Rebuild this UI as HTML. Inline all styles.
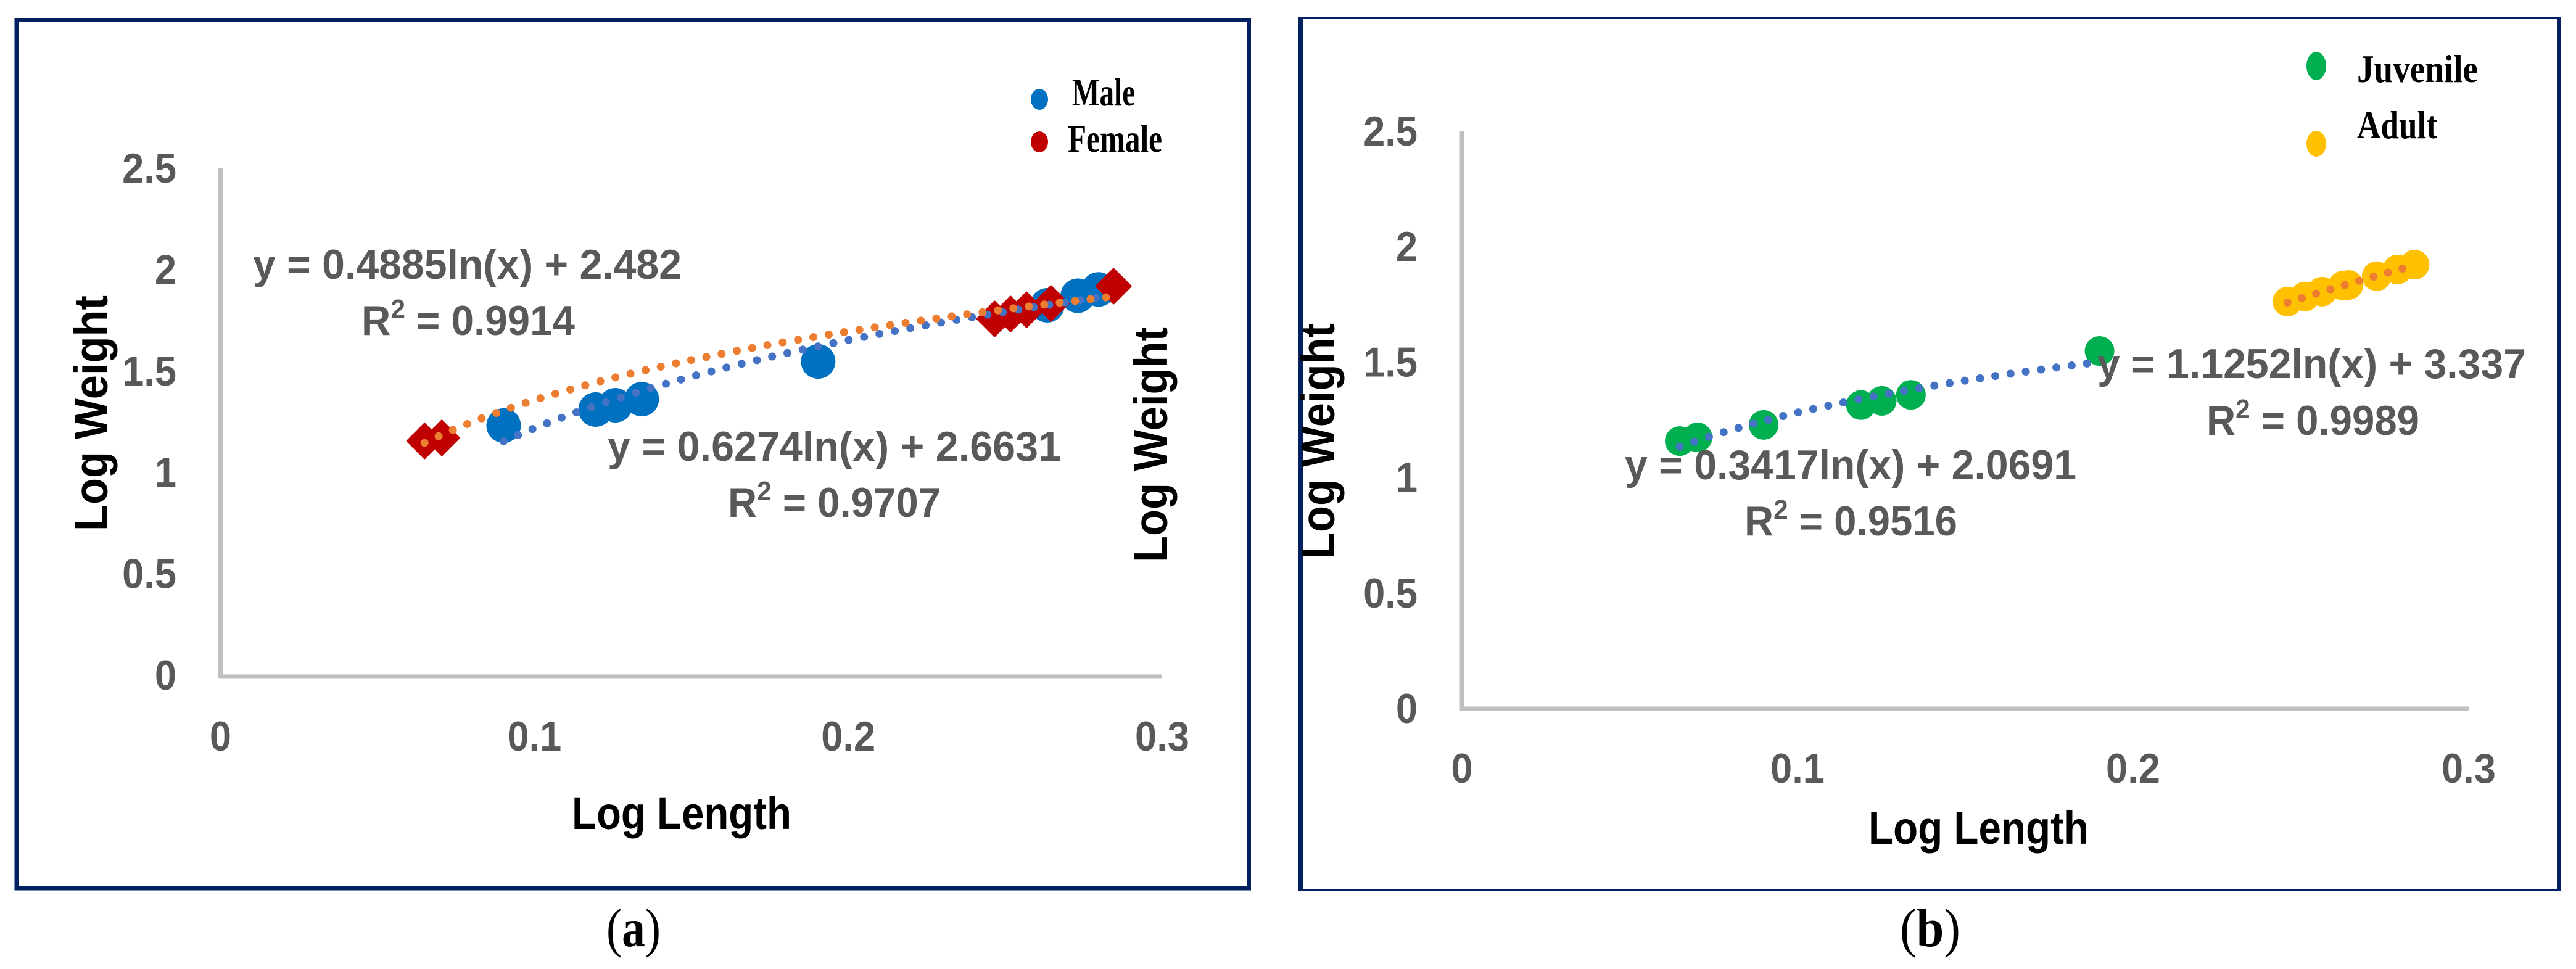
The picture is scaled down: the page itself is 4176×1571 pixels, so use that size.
<!DOCTYPE html>
<html lang="en">
<head>
<meta charset="utf-8">
<title>Log Length vs Log Weight</title>
<style>
html,body{margin:0;padding:0;background:#fff;}
svg{display:block;}
.tick{font-family:"Liberation Sans",sans-serif;font-weight:700;font-size:68px;fill:#595959;}
.eq{font-family:"Liberation Sans",sans-serif;font-weight:700;font-size:68px;fill:#595959;}
.title{font-family:"Liberation Sans",sans-serif;font-weight:700;font-size:77px;fill:#000;}
.xtitle{font-family:"Liberation Sans",sans-serif;font-weight:700;font-size:74px;fill:#000;}
.leg{font-family:"Liberation Serif",serif;font-weight:700;font-size:64px;fill:#000;}
.cap{font-family:"Liberation Serif",serif;font-size:88px;fill:#000;}
</style>
</head>
<body>
<svg id="figure" xmlns="http://www.w3.org/2000/svg" width="4176" height="1571" viewBox="0 0 4176 1571">
  <rect width="4176" height="1571" fill="#fff"/>

  <g id="panel-a">
    <rect x="27" y="32.5" width="1997.5" height="1407.5" fill="none" stroke="#002060" stroke-width="7"/>
    <line x1="357.5" y1="273" x2="357.5" y2="1100" stroke="#bfbfbf" stroke-width="7"/>
    <line x1="357" y1="1097" x2="1884" y2="1097" stroke="#bfbfbf" stroke-width="7"/>
    <g id="a-ticks"></g>
    <g id="a-marks"></g>
    <text class="title" transform="translate(174 670) rotate(-90)" text-anchor="middle" textLength="382" lengthAdjust="spacingAndGlyphs">Log Weight</text>
    <text class="title" transform="translate(1892 721) rotate(-90)" text-anchor="middle" textLength="382" lengthAdjust="spacingAndGlyphs">Log Weight</text>
    <text class="xtitle" x="927" y="1344" textLength="356" lengthAdjust="spacingAndGlyphs">Log Length</text>
    <text class="eq" x="410" y="452" textLength="695" lengthAdjust="spacingAndGlyphs">y = 0.4885ln(x) + 2.482</text>
    <text class="eq" x="586" y="543" textLength="346" lengthAdjust="spacingAndGlyphs">R<tspan font-size="44" dy="-27">2</tspan><tspan dy="27"> = 0.9914</tspan></text>
    <text class="eq" x="985" y="747" textLength="735" lengthAdjust="spacingAndGlyphs">y = 0.6274ln(x) + 2.6631</text>
    <text class="eq" x="1180" y="838" textLength="345" lengthAdjust="spacingAndGlyphs">R<tspan font-size="44" dy="-27">2</tspan><tspan dy="27"> = 0.9707</tspan></text>
    <ellipse cx="1685" cy="161" rx="14" ry="17" fill="#0070c0"/>
    <ellipse cx="1685" cy="230" rx="14" ry="17" fill="#c00000"/>
    <text class="leg" x="1738" y="171" textLength="102" lengthAdjust="spacingAndGlyphs">Male</text>
    <text class="leg" x="1731" y="246" textLength="153" lengthAdjust="spacingAndGlyphs">Female</text>
    <text class="cap" x="983" y="1534" textLength="88" lengthAdjust="spacingAndGlyphs">(<tspan font-weight="700">a</tspan>)</text>
  </g>

  <g id="panel-b">
    <g stroke="#002060" fill="none">
      <line x1="2105" y1="29" x2="4152" y2="29" stroke-width="4"/>
      <line x1="2105" y1="1443" x2="4152" y2="1443" stroke-width="4"/>
      <line x1="2108.5" y1="27" x2="2108.5" y2="1445" stroke-width="7"/>
      <line x1="4148.5" y1="27" x2="4148.5" y2="1445" stroke-width="7"/>
    </g>
    <line x1="2370" y1="213" x2="2370" y2="1152" stroke="#bfbfbf" stroke-width="7"/>
    <line x1="2370" y1="1149" x2="4002" y2="1149" stroke="#bfbfbf" stroke-width="7"/>
    <g id="b-ticks"></g>
    <g id="b-marks"></g>
    <text class="title" transform="translate(2163 715) rotate(-90)" text-anchor="middle" textLength="382" lengthAdjust="spacingAndGlyphs">Log Weight</text>
    <text class="xtitle" x="3029" y="1368" textLength="357" lengthAdjust="spacingAndGlyphs">Log Length</text>
    <text class="eq" x="3400" y="613" textLength="695" lengthAdjust="spacingAndGlyphs">y = 1.1252ln(x) + 3.337</text>
    <text class="eq" x="3577" y="705" textLength="345" lengthAdjust="spacingAndGlyphs">R<tspan font-size="44" dy="-27">2</tspan><tspan dy="27"> = 0.9989</tspan></text>
    <text class="eq" x="2634" y="777" textLength="732" lengthAdjust="spacingAndGlyphs">y = 0.3417ln(x) + 2.0691</text>
    <text class="eq" x="2828" y="868" textLength="345" lengthAdjust="spacingAndGlyphs">R<tspan font-size="44" dy="-27">2</tspan><tspan dy="27"> = 0.9516</tspan></text>
    <ellipse cx="3755" cy="107" rx="16" ry="23" fill="#00b050"/>
    <ellipse cx="3755" cy="233" rx="16" ry="21" fill="#ffc000"/>
    <text class="leg" x="3821" y="133" textLength="196" lengthAdjust="spacingAndGlyphs">Juvenile</text>
    <text class="leg" x="3821" y="224" textLength="130" lengthAdjust="spacingAndGlyphs">Adult</text>
    <text class="cap" x="3080" y="1534" textLength="98" lengthAdjust="spacingAndGlyphs">(<tspan font-weight="700">b</tspan>)</text>
  </g>
</svg>

<script>
// Tick labels
const xTickLabels = ["0", "0.1", "0.2", "0.3"];
const yTickLabels = ["0", "0.5", "1", "1.5", "2", "2.5"];

// Panel (a): male and female series
const maleLength = [0.0902, 0.1195, 0.1258, 0.1342, 0.1904, 0.2634, 0.2731, 0.2797];
const maleWeight = [1.232, 1.311, 1.332, 1.362, 1.548, 1.825, 1.872, 1.903];
const femaleLength = [0.065, 0.0705, 0.2466, 0.2517, 0.2568, 0.2646, 0.2845];
const femaleWeight = [1.156, 1.171, 1.758, 1.782, 1.803, 1.834, 1.919];
const maleTrend = [0.6274, 2.6631];
const femaleTrend = [0.4885, 2.482];

// Panel (b): juvenile and adult series
const juvenileLength = [0.0649, 0.0702, 0.0899, 0.1189, 0.1251, 0.1338, 0.19];
const juvenileWeight = [1.159, 1.175, 1.229, 1.315, 1.333, 1.359, 1.549];
const adultLength = [0.246, 0.2512, 0.2563, 0.2626, 0.2642, 0.2726, 0.2788, 0.2839];
const adultWeight = [1.763, 1.785, 1.806, 1.832, 1.835, 1.873, 1.902, 1.923];
const juvenileTrend = [0.3417, 2.0691];
const adultTrend = [1.1252, 3.337];

const SVG_NS = 'http://www.w3.org/2000/svg';

function makeAxes(x0, x1, y0, y1) {
  return {
    x: function (v) { return x0 + (v / 0.3) * (x1 - x0); },
    y: function (v) { return y0 - (v / 2.5) * (y0 - y1); }
  };
}
const axesA = makeAxes(357.5, 1884, 1095, 273);
const axesB = makeAxes(2370, 4002, 1149, 213);

function tickWidth(label) {
  const dots = label.split('.').length - 1;
  return 68 * 0.93 * ((label.length - dots) * 0.556 + dots * 0.278);
}

function drawTicks(parent, axes, yRight, xBase) {
  xTickLabels.forEach(function (label) {
    const t = document.createElementNS(SVG_NS, 'text');
    t.setAttribute('class', 'tick');
    
    
    t.setAttribute('x', axes.x(parseFloat(label)));
    t.setAttribute('y', xBase);
    t.setAttribute('text-anchor', 'middle');
    t.setAttribute('textLength', tickWidth(label));
    t.setAttribute('lengthAdjust', 'spacingAndGlyphs');
    t.textContent = label;
    parent.appendChild(t);
  });
  yTickLabels.forEach(function (label) {
    const t = document.createElementNS(SVG_NS, 'text');
    t.setAttribute('class', 'tick');
    
    
    t.setAttribute('x', yRight);
    t.setAttribute('y', axes.y(parseFloat(label)) + 23);
    t.setAttribute('text-anchor', 'end');
    t.setAttribute('textLength', tickWidth(label));
    t.setAttribute('lengthAdjust', 'spacingAndGlyphs');
    t.textContent = label;
    parent.appendChild(t);
  });
}

function drawCircles(parent, axes, xs, ys, r, color, name) {
  xs.forEach(function (v, i) {
    const c = document.createElementNS(SVG_NS, 'circle');
    
    
    c.setAttribute('cx', axes.x(v));
    c.setAttribute('cy', axes.y(ys[i]));
    c.setAttribute('r', r);
    c.setAttribute('fill', color);
    parent.appendChild(c);
  });
}

function drawDiamonds(parent, axes, xs, ys, h, color, name) {
  xs.forEach(function (v, i) {
    const cx = axes.x(v), cy = axes.y(ys[i]);
    const p = document.createElementNS(SVG_NS, 'polygon');
    
    
    p.setAttribute('points', [[cx - h, cy], [cx, cy - h], [cx + h, cy], [cx, cy + h]].map(function (q) { return q.join(','); }).join(' '));
    p.setAttribute('fill', color);
    p.setAttribute('stroke', color);
    p.setAttribute('stroke-width', '3');
    p.setAttribute('stroke-linejoin', 'round');
    parent.appendChild(p);
  });
}

function drawTrend(parent, axes, xs, coef, color, gap, name) {
  const lo = Math.min.apply(null, xs), hi = Math.max.apply(null, xs);
  const steps = 120;
  let d = '';
  for (let i = 0; i <= steps; i++) {
    const v = lo + (hi - lo) * i / steps;
    d += (i ? 'L' : 'M') + axes.x(v).toFixed(2) + ' ' + axes.y(coef[0] * Math.log(v) + coef[1]).toFixed(2);
  }
  const p = document.createElementNS(SVG_NS, 'path');
  
  
  p.setAttribute('d', d);
  p.setAttribute('fill', 'none');
  p.setAttribute('stroke', color);
  p.setAttribute('stroke-width', '13');
  p.setAttribute('stroke-linecap', 'round');
  p.setAttribute('stroke-dasharray', '0 ' + gap);
  parent.appendChild(p);
}

const aMarks = document.getElementById('a-marks');
const bMarks = document.getElementById('b-marks');
drawTicks(document.getElementById('a-ticks'), axesA, 286, 1217);
drawTicks(document.getElementById('b-ticks'), axesB, 2298, 1269);

drawCircles(aMarks, axesA, maleLength, maleWeight, 28, '#0070c0', 'male-point');
drawDiamonds(aMarks, axesA, femaleLength, femaleWeight, 28, '#c00000', 'female-point');
drawTrend(aMarks, axesA, maleLength, maleTrend, '#4472c4', 25.4, 'male-trendline');
drawTrend(aMarks, axesA, femaleLength, femaleTrend, '#ed7d31', 25.2, 'female-trendline');

drawCircles(bMarks, axesB, juvenileLength, juvenileWeight, 24, '#00b050', 'juvenile-point');
drawCircles(bMarks, axesB, adultLength, adultWeight, 24, '#ffc000', 'adult-point');
drawTrend(bMarks, axesB, juvenileLength, juvenileTrend, '#4472c4', 25, 'juvenile-trendline');
drawTrend(bMarks, axesB, adultLength, adultTrend, '#ed7d31', 24.3, 'adult-trendline');
</script>
</body>
</html>
